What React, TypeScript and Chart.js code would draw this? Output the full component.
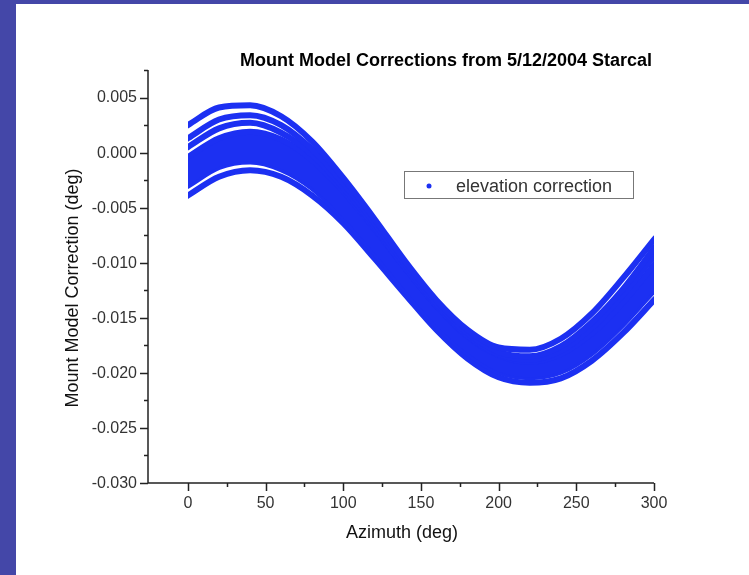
import React, { useEffect, useRef } from 'react';
import { Chart, registerables } from 'chart.js';

Chart.register(...registerables);

const TITLE = 'Mount Model Corrections from 5/12/2004 Starcal';
const X_TITLE = 'Azimuth (deg)';
const Y_TITLE = 'Mount Model Correction (deg)';
const LEGEND_LABEL = 'elevation correction';

const AZIMUTH = [0, 20, 40, 60, 80, 100, 120, 140, 160, 180, 200, 220, 240, 260, 280, 300];

const CURVE_1 = [0.0025, 0.0041, 0.0043, 0.0033, 0.0010, -0.0023, -0.0060, -0.0099, -0.0134, -0.0161, -0.0177, -0.0179, -0.0169, -0.0146, -0.0114, -0.0079];
const CURVE_2 = [0.0013, 0.0030, 0.0034, 0.0025, 0.0003, -0.0028, -0.0064, -0.0102, -0.0137, -0.0164, -0.0181, -0.0185, -0.0176, -0.0154, -0.0124, -0.0087];
const CURVE_3 = [0.0005, 0.0022, 0.0027, 0.0018, -0.0002, -0.0032, -0.0067, -0.0105, -0.0139, -0.0166, -0.0183, -0.0188, -0.0180, -0.0159, -0.0129, -0.0094];
const BAND_TOP = [-0.0004, 0.0013, 0.0019, 0.0012, -0.0007, -0.0035, -0.0069, -0.0105, -0.0139, -0.0167, -0.0184, -0.0190, -0.0183, -0.0164, -0.0136, -0.0102];
const BAND_BOTTOM = [-0.0030, -0.0013, -0.0008, -0.0015, -0.0032, -0.0059, -0.0091, -0.0125, -0.0157, -0.0182, -0.0199, -0.0204, -0.0199, -0.0182, -0.0156, -0.0125];
const CURVE_LOW = [-0.0039, -0.0022, -0.0016, -0.0022, -0.0039, -0.0064, -0.0096, -0.0129, -0.0161, -0.0187, -0.0204, -0.0209, -0.0205, -0.0189, -0.0164, -0.0134];

const X_MAJOR_TICKS = [0, 50, 100, 150, 200, 250, 300];
const X_MINOR_TICKS = [25, 75, 125, 175, 225, 275];
const Y_MAJOR_TICKS = [-0.03, -0.025, -0.02, -0.015, -0.01, -0.005, 0, 0.005];
const Y_MINOR_TICKS = [-0.0275, -0.0225, -0.0175, -0.0125, -0.0075, -0.0025, 0.0025, 0.0075];

const X_MIN = -25.7;
const X_MAX = 300;
const Y_MIN = -0.03;
const Y_MAX = 0.0075;

const BLUE = 'rgb(28, 48, 242)';
const FRAME = '#4447a8';
const FONT = '"Liberation Sans", Arial, sans-serif';

function pts(values: number[]) {
  return values.map((v, i) => ({ x: AZIMUTH[i], y: v }));
}

const decorPlugin = {
  id: 'decor',
  beforeDraw(chart: any) {
    const ctx = chart.ctx;
    ctx.save();
    ctx.fillStyle = '#ffffff';
    ctx.fillRect(0, 0, chart.width, chart.height);
    ctx.fillStyle = FRAME;
    ctx.fillRect(0, 0, 16, chart.height);
    ctx.fillRect(0, 0, chart.width, 4);
    ctx.restore();
  },
  beforeDatasetsDraw(chart: any) {
    const ctx = chart.ctx;
    const xs = chart.scales.x;
    const a = chart.chartArea;
    const x0 = xs.getPixelForValue(AZIMUTH[0]);
    const x1 = xs.getPixelForValue(AZIMUTH[AZIMUTH.length - 1]);
    ctx.save();
    ctx.beginPath();
    ctx.rect(x0, a.top - 10, x1 - x0, a.bottom - a.top + 20);
    ctx.clip();
  },
  afterDatasetsDraw(chart: any) {
    chart.ctx.restore();
  },
  afterDraw(chart: any) {
    const ctx = chart.ctx;
    const xs = chart.scales.x;
    const ys = chart.scales.y;
    const a = chart.chartArea;
    ctx.save();
    ctx.strokeStyle = '#222';
    ctx.lineWidth = 1.5;
    ctx.beginPath();
    ctx.moveTo(a.left, a.top);
    ctx.lineTo(a.left, a.bottom);
    ctx.lineTo(a.right, a.bottom);
    ctx.stroke();

    ctx.beginPath();
    Y_MAJOR_TICKS.forEach((v) => {
      const y = Math.round(ys.getPixelForValue(v)) + 0.5;
      ctx.moveTo(a.left - 8, y);
      ctx.lineTo(a.left, y);
    });
    Y_MINOR_TICKS.forEach((v) => {
      const y = Math.round(ys.getPixelForValue(v)) + 0.5;
      ctx.moveTo(a.left - 4, y);
      ctx.lineTo(a.left, y);
    });
    X_MAJOR_TICKS.forEach((v) => {
      const x = Math.round(xs.getPixelForValue(v)) + 0.5;
      ctx.moveTo(x, a.bottom);
      ctx.lineTo(x, a.bottom + 8);
    });
    X_MINOR_TICKS.forEach((v) => {
      const x = Math.round(xs.getPixelForValue(v)) + 0.5;
      ctx.moveTo(x, a.bottom);
      ctx.lineTo(x, a.bottom + 4);
    });
    ctx.stroke();

    ctx.fillStyle = '#333';
    ctx.font = '16px ' + FONT;
    ctx.textAlign = 'right';
    ctx.textBaseline = 'middle';
    Y_MAJOR_TICKS.forEach((v) => {
      ctx.fillText(v.toFixed(3), a.left - 11, ys.getPixelForValue(v) + 0.5);
    });
    ctx.textAlign = 'center';
    ctx.textBaseline = 'alphabetic';
    X_MAJOR_TICKS.forEach((v) => {
      ctx.fillText(String(v), xs.getPixelForValue(v), a.bottom + 25);
    });

    ctx.fillStyle = '#111';
    ctx.font = '18px ' + FONT;
    ctx.fillText(X_TITLE, 402, 538);
    ctx.save();
    ctx.translate(78, 288);
    ctx.rotate(-Math.PI / 2);
    ctx.textBaseline = 'alphabetic';
    ctx.fillText(Y_TITLE, 0, 0);
    ctx.restore();

    ctx.font = 'bold 18px ' + FONT;
    ctx.fillStyle = '#000';
    ctx.fillText(TITLE, 446, 66);

    // legend
    ctx.strokeStyle = '#777';
    ctx.lineWidth = 1;
    ctx.fillStyle = '#fff';
    ctx.fillRect(404.5, 171.5, 229, 27);
    ctx.strokeRect(404.5, 171.5, 229, 27);
    ctx.fillStyle = BLUE;
    ctx.beginPath();
    ctx.arc(429, 186, 2.5, 0, Math.PI * 2);
    ctx.fill();
    ctx.fillStyle = '#333';
    ctx.font = '18px ' + FONT;
    ctx.textAlign = 'left';
    ctx.textBaseline = 'alphabetic';
    ctx.fillText(LEGEND_LABEL, 456, 192);
    ctx.restore();
  },
};

export default function App() {
  const ref = useRef<HTMLCanvasElement | null>(null);
  useEffect(() => {
    if (!ref.current) return;
    const line = (values: number[], extra: any = {}) => ({
      data: pts(values),
      borderColor: BLUE,
      backgroundColor: BLUE,
      borderWidth: 6,
      borderCapStyle: 'square',
      pointRadius: 0,
      fill: false,
      cubicInterpolationMode: 'monotone',
      ...extra,
    });
    const chart = new Chart(ref.current, {
      type: 'line',
      data: {
        datasets: [
          line(CURVE_1, { label: LEGEND_LABEL }),
          line(CURVE_2),
          line(CURVE_3),
          line(BAND_TOP, { fill: '+1' }),
          line(BAND_BOTTOM),
          line(CURVE_LOW),
        ],
      },
      options: {
        responsive: false,
        animation: false,
        devicePixelRatio: 1,
        layout: { padding: { left: 148, top: 70, right: 95, bottom: 92 } },
        scales: {
          x: { type: 'linear', min: X_MIN, max: X_MAX, display: false },
          y: { type: 'linear', min: Y_MIN, max: Y_MAX, display: false },
        },
        plugins: {
          legend: { display: false },
          tooltip: { enabled: false },
          title: { display: false },
        },
      } as any,
      plugins: [decorPlugin],
    });
    return () => chart.destroy();
  }, []);
  return (
    <div style={{ position: 'fixed', left: 0, top: 0, width: 749, height: 575 }}>
      <canvas ref={ref} width={749} height={575} style={{ display: 'block' }} />
    </div>
  );
}
